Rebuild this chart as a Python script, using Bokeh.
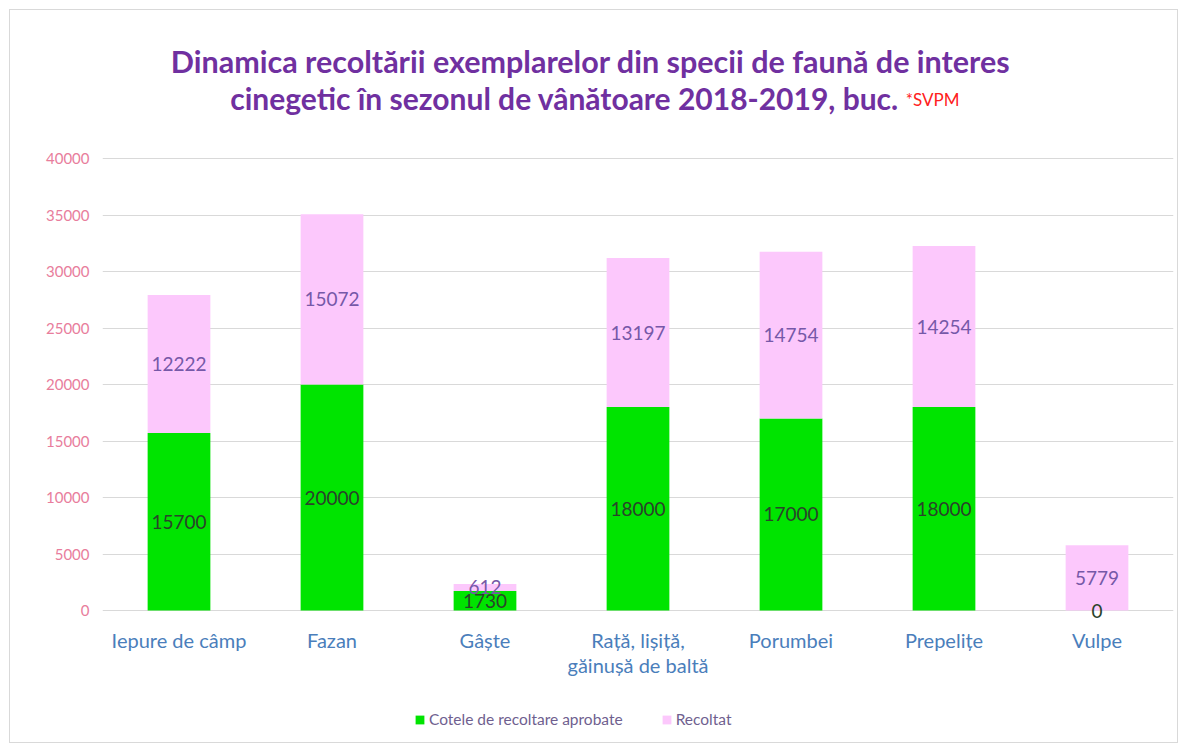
from bokeh.plotting import figure
from bokeh.models import ColumnDataSource, Label, Legend, LegendItem, FixedTicker, FactorRange, Range1d
from bokeh.core.properties import value
from bokeh.embed import file_html
from bokeh.resources import INLINE

categories = ["Iepure de câmp", "Fazan", "Gâște", "Rață, lișiță,\ngăinușă de baltă", "Porumbei", "Prepelițe", "Vulpe"]
cote = [15700, 20000, 1730, 18000, 17000, 18000, 0]
recoltat = [12222, 15072, 612, 13197, 14754, 14254, 5779]
series_names = ["Cotele de recoltare aprobate", "Recoltat"]
y_ticks = [0, 5000, 10000, 15000, 20000, 25000, 30000, 35000, 40000]
title_1 = "Dinamica recoltării exemplarelor din specii de faună de interes"
title_2 = "cinegetic în sezonul de vânătoare 2018-2019, buc."
title_note = "*SVPM"

GREEN = "#00E400"
PINK = "#FCC8FC"
FONT = "Lato"

# layout: frame covers page y 10..744, value 0 sits at page y 610, 40000 at 158
UNIT = 40000 / 452          # data units per pixel
ZERO_PX = 610
def py(page_y):
    return (ZERO_PX - page_y) * UNIT

src = ColumnDataSource(dict(
    cat=categories,
    cote=cote,
    recoltat=recoltat,
    cote_mid=[c / 2 for c in cote],
    rec_mid=[c + r / 2 for c, r in zip(cote, recoltat)],
    cote_lbl=[str(v) for v in cote],
    rec_lbl=[str(v) for v in recoltat],
    lbl_y=[py(627)] * len(categories),
))

p = figure(x_range=FactorRange(*categories, range_padding=0), y_range=Range1d(py(744), py(10)),
           width=1169, height=734, output_backend="svg", toolbar_location=None,
           min_border_left=92, min_border_right=6, min_border_top=0, min_border_bottom=0)
p.styles = {"border": "1px solid #D9D9D9", "margin": "9px 0 0 9px"}

rs = p.vbar_stack(["cote", "recoltat"], x="cat", width=0.41, source=src,
                  color=[GREEN, PINK], line_color=None)

p.text(x="cat", y="cote_mid", text="cote_lbl", source=src, text_align="center", text_baseline="middle",
       text_font=value(FONT), text_font_size="19px", text_color="#2A432A")
p.text(x="cat", y="rec_mid", text="rec_lbl", source=src, text_align="center", text_baseline="middle",
       text_font=value(FONT), text_font_size="19px", text_color="#7658A8")

# category labels under the zero line
p.text(x="cat", y="lbl_y", text="cat", source=src, text_align="center", text_baseline="top",
       text_font=value(FONT), text_font_size="20px", text_color="#4A7EBB", text_line_height=1.05)

p.outline_line_color = None
p.xgrid.grid_line_color = None
p.ygrid.grid_line_color = "#D9D9D9"
p.ygrid.ticker = FixedTicker(ticks=y_ticks)
p.yaxis.ticker = FixedTicker(ticks=y_ticks)
p.yaxis.axis_line_color = None
p.yaxis.major_tick_line_color = None
p.yaxis.minor_tick_line_color = None
p.yaxis.major_label_text_color = "#E87D9C"
p.yaxis.major_label_text_font = FONT
p.yaxis.major_label_text_font_size = "15px"
p.yaxis.major_label_standoff = 7
p.xaxis.visible = False

legend = Legend(items=[LegendItem(label=series_names[0], renderers=[rs[0]]),
                       LegendItem(label=series_names[1], renderers=[rs[1]])],
                orientation="horizontal", location=(312, 16),
                label_text_font=FONT, label_text_font_size="15.5px", label_text_color="#6F5F8F",
                glyph_width=11, glyph_height=11, label_standoff=4, spacing=38, border_line_color=None,
                background_fill_alpha=0)
p.add_layout(legend, "center")

p.add_layout(Label(x=3.19, y=py(60), text=title_1,
                   text_align="center", text_baseline="middle", text_font=FONT, text_font_style="bold",
                   text_font_size="30.5px", text_color="#7030A0"))
p.add_layout(Label(x=3.02, y=py(97), text=title_2,
                   text_align="center", text_baseline="middle", text_font=FONT, text_font_style="bold",
                   text_font_size="30px", text_color="#7030A0"))
p.add_layout(Label(x=5.25, y=py(99), text=title_note,
                   text_align="left", text_baseline="middle", text_font=FONT,
                   text_font_size="17px", text_color="#FF2020"))

open("out.html", "w").write(file_html(p, INLINE))
